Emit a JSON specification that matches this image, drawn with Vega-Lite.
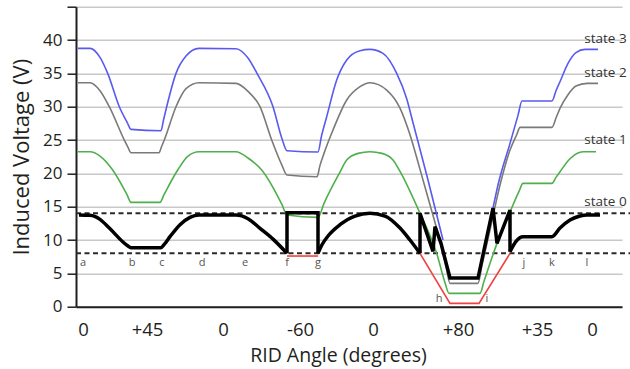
{
  "$schema": "https://vega.github.io/schema/vega-lite/v6.json",
  "width": 546,
  "height": 300,
  "autosize": {"type": "none"},
  "padding": {"left": 76, "top": 6.7, "right": 8, "bottom": 62.3},
  "background": "white",
  "config": {"view": {"stroke": null}, "font": "Open Sans"},
  "datasets": {
    "dash": [{"v": 14, "x": 0, "x2": 554}, {"v": 8, "x": 0, "x2": 554}],
    "letters": [
      {"t": "a", "x": 7, "v": 6.5}, {"t": "b", "x": 56, "v": 6.5}, {"t": "c", "x": 86, "v": 6.5},
      {"t": "d", "x": 126, "v": 6.5}, {"t": "e", "x": 169, "v": 6.5}, {"t": "f", "x": 211, "v": 6.5},
      {"t": "g", "x": 242, "v": 6.5}, {"t": "h", "x": 363, "v": 1.15}, {"t": "i", "x": 411, "v": 1.15},
      {"t": "j", "x": 448, "v": 6.5}, {"t": "k", "x": 476, "v": 6.5}, {"t": "l", "x": 511, "v": 6.5}
    ],
    "states": [
      {"t": "state 3", "x": 529.5, "v": 40.2},
      {"t": "state 2", "x": 529.5, "v": 35.0},
      {"t": "state 1", "x": 529.5, "v": 25.0},
      {"t": "state 0", "x": 529.5, "v": 15.7}
    ],
    "curves": [
      {"s":"s3a","x":2,"v":38.75},{"s":"s3a","x":14,"v":38.75},{"s":"s3a","x":24,"v":37.4},{"s":"s3a","x":31.7,"v":35},{"s":"s3a","x":43.3,"v":30},{"s":"s3a","x":51,"v":27.7},{"s":"s3a","x":55,"v":26.6},{"s":"s3a","x":85,"v":26.4},{"s":"s3a","x":87.5,"v":28},{"s":"s3a","x":90.7,"v":30},{"s":"s3a","x":100,"v":35},{"s":"s3a","x":110,"v":37.6},{"s":"s3a","x":123,"v":38.75},{"s":"s3a","x":160,"v":38.7},{"s":"s3a","x":172,"v":37.3},{"s":"s3a","x":181,"v":35},{"s":"s3a","x":197,"v":30},{"s":"s3a","x":206,"v":25.2},{"s":"s3a","x":211,"v":23.4},{"s":"s3a","x":242,"v":23.2},{"s":"s3a","x":245.5,"v":25.6},{"s":"s3a","x":250.7,"v":28.5},{"s":"s3a","x":260.7,"v":34},{"s":"s3a","x":270.7,"v":37},{"s":"s3a","x":284,"v":38.4},{"s":"s3a","x":294,"v":38.6},{"s":"s3a","x":307,"v":38},{"s":"s3a","x":320.7,"v":35},{"s":"s3a","x":330.7,"v":31.2},{"s":"s3a","x":337,"v":27.6},{"s":"s3a","x":352,"v":19},{"s":"s3a","x":367,"v":10},
      {"s":"s3b","x":417,"v":14.8},{"s":"s3b","x":422,"v":18.25},{"s":"s3b","x":434,"v":24.5},{"s":"s3b","x":442,"v":28.7},{"s":"s3b","x":446,"v":30.85},{"s":"s3b","x":476,"v":30.85},{"s":"s3b","x":480,"v":32.4},{"s":"s3b","x":484,"v":33.75},{"s":"s3b","x":492,"v":36.5},{"s":"s3b","x":500,"v":38.1},{"s":"s3b","x":509,"v":38.6},{"s":"s3b","x":522,"v":38.6},
      {"s":"s2","x":2,"v":33.6},{"s":"s2","x":14,"v":33.6},{"s":"s2","x":24,"v":32.4},{"s":"s2","x":33.3,"v":30},{"s":"s2","x":48.3,"v":25},{"s":"s2","x":52,"v":23.9},{"s":"s2","x":55,"v":23.1},{"s":"s2","x":83,"v":23.1},{"s":"s2","x":85.5,"v":24.0},{"s":"s2","x":88.3,"v":25},{"s":"s2","x":100,"v":30},{"s":"s2","x":110,"v":32.7},{"s":"s2","x":123,"v":33.6},{"s":"s2","x":160,"v":33.5},{"s":"s2","x":172,"v":32.3},{"s":"s2","x":184,"v":30},{"s":"s2","x":195.7,"v":25},{"s":"s2","x":206,"v":21.2},{"s":"s2","x":211,"v":19.75},{"s":"s2","x":241,"v":19.5},{"s":"s2","x":244,"v":21.2},{"s":"s2","x":248,"v":23},{"s":"s2","x":257,"v":26.5},{"s":"s2","x":270.7,"v":31},{"s":"s2","x":284,"v":33},{"s":"s2","x":294,"v":33.6},{"s":"s2","x":310.7,"v":32.5},{"s":"s2","x":324,"v":29.8},{"s":"s2","x":334,"v":25.8},{"s":"s2","x":344,"v":20.6},{"s":"s2","x":354,"v":15.3},{"s":"s2","x":364,"v":9.8},{"s":"s2","x":370,"v":6.0},{"s":"s2","x":374,"v":3.5},{"s":"s2","x":402,"v":3.5},{"s":"s2","x":406,"v":6.2},{"s":"s2","x":414,"v":11.5},{"s":"s2","x":424,"v":18.25},{"s":"s2","x":434,"v":23.5},{"s":"s2","x":441,"v":25.9},{"s":"s2","x":444,"v":26.9},{"s":"s2","x":476,"v":26.9},{"s":"s2","x":480,"v":28.3},{"s":"s2","x":484,"v":29.75},{"s":"s2","x":492,"v":31.8},{"s":"s2","x":500,"v":33.1},{"s":"s2","x":511,"v":33.5},{"s":"s2","x":522,"v":33.5},
      {"s":"s1","x":2,"v":23.25},{"s":"s1","x":14,"v":23.25},{"s":"s1","x":24,"v":22.6},{"s":"s1","x":36.7,"v":20.5},{"s":"s1","x":51,"v":16.8},{"s":"s1","x":55,"v":15.65},{"s":"s1","x":84,"v":15.65},{"s":"s1","x":88,"v":16.8},{"s":"s1","x":101.7,"v":20.5},{"s":"s1","x":112,"v":22.6},{"s":"s1","x":123,"v":23.25},{"s":"s1","x":160,"v":23.25},{"s":"s1","x":172,"v":22.3},{"s":"s1","x":185.7,"v":20.5},{"s":"s1","x":206,"v":15.3},{"s":"s1","x":211,"v":13.75},{"s":"s1","x":242,"v":13.4},{"s":"s1","x":248,"v":15.5},{"s":"s1","x":264,"v":20.2},{"s":"s1","x":270.7,"v":22},{"s":"s1","x":282,"v":23.0},{"s":"s1","x":294,"v":23.25},{"s":"s1","x":306,"v":23.0},{"s":"s1","x":317,"v":22},{"s":"s1","x":324,"v":20.3},{"s":"s1","x":344,"v":14},{"s":"s1","x":360.7,"v":8},{"s":"s1","x":369,"v":3.6},{"s":"s1","x":373,"v":2.0},{"s":"s1","x":404,"v":2.0},{"s":"s1","x":408,"v":3.8},{"s":"s1","x":421,"v":9.5},{"s":"s1","x":434,"v":14.2},{"s":"s1","x":443,"v":17.3},{"s":"s1","x":447,"v":18.5},{"s":"s1","x":476,"v":18.5},{"s":"s1","x":480,"v":19.4},{"s":"s1","x":484,"v":20.25},{"s":"s1","x":494,"v":22.2},{"s":"s1","x":507,"v":23.25},{"s":"s1","x":520,"v":23.25},
      {"s":"s0a","x":3,"v":13.75},{"s":"s0a","x":14,"v":13.7},{"s":"s0a","x":24,"v":13.1},{"s":"s0a","x":33.3,"v":11.8},{"s":"s0a","x":46.7,"v":9.75},{"s":"s0a","x":52,"v":9.1},{"s":"s0a","x":55,"v":8.85},{"s":"s0a","x":85,"v":8.85},{"s":"s0a","x":88,"v":9.3},{"s":"s0a","x":94,"v":10.5},{"s":"s0a","x":104,"v":12.3},{"s":"s0a","x":114,"v":13.4},{"s":"s0a","x":123,"v":13.75},{"s":"s0a","x":160,"v":13.75},{"s":"s0a","x":172,"v":13.2},{"s":"s0a","x":184,"v":11.75},{"s":"s0a","x":197.3,"v":10.1},{"s":"s0a","x":211,"v":8.0},
      {"s":"s0b","x":242,"v":8.0},{"s":"s0b","x":246,"v":9.3},{"s":"s0b","x":252,"v":10.6},{"s":"s0b","x":264,"v":12.3},{"s":"s0b","x":279,"v":13.6},{"s":"s0b","x":294,"v":14.0},{"s":"s0b","x":309,"v":13.6},{"s":"s0b","x":324,"v":11.8},{"s":"s0b","x":334,"v":10.0},{"s":"s0b","x":344,"v":8.0},
      {"s":"s0c","x":434,"v":8.25},{"s":"s0c","x":440,"v":9.8},{"s":"s0c","x":447,"v":10.5},{"s":"s0c","x":476,"v":10.5},{"s":"s0c","x":484,"v":11.8},{"s":"s0c","x":494,"v":13.0},{"s":"s0c","x":504,"v":13.6},{"s":"s0c","x":511,"v":13.75},{"s":"s0c","x":524,"v":13.75},
      {"s":"j1","i":1,"x":211,"v":8.0},{"s":"j1","i":2,"x":211,"v":14.1},{"s":"j1","i":3,"x":242,"v":14.1},{"s":"j1","i":4,"x":242,"v":8.0},
      {"s":"j2","i":1,"x":344,"v":8.0},{"s":"j2","i":2,"x":344,"v":14.0},{"s":"j2","i":3,"x":357,"v":8.3},{"s":"j2","i":4,"x":359,"v":12.0},{"s":"j2","i":5,"x":365,"v":9.5},{"s":"j2","i":6,"x":374,"v":4.3},{"s":"j2","i":7,"x":402,"v":4.3},{"s":"j2","i":8,"x":417,"v":14.8},{"s":"j2","i":9,"x":421,"v":9.5},{"s":"j2","i":10,"x":434,"v":14.5},{"s":"j2","i":11,"x":434,"v":8.25},
      {"s":"r1","i":1,"x":211,"v":7.6},{"s":"r1","i":2,"x":242,"v":7.6},
      {"s":"r2","i":1,"x":344,"v":8.0},{"s":"r2","i":2,"x":374,"v":0.5},{"s":"r2","i":3,"x":403,"v":0.5},{"s":"r2","i":4,"x":434,"v":8.0}
    ]
  },
  "encoding": {
    "x": {
      "field": "x", "type": "quantitative",
      "scale": {"domain": [0, 546], "nice": false, "zero": false},
      "axis": {
        "values": [7, 71, 147, 224, 297, 382, 461, 516],
        "labelExpr": "datum.value == 71 ? '+45' : datum.value == 224 ? '-60' : datum.value == 382 ? '+80' : datum.value == 461 ? '+35' : '0'",
        "title": "RID Angle (degrees)",
        "grid": false, "ticks": false, "tickSize": 0,
        "domainColor": "#231f20", "domainWidth": 2,
        "labelFontSize": 18.5, "labelColor": "#231f20", "labelPadding": 14, "labelFlush": false,
        "titleFontSize": 19.5, "titleFontWeight": "normal", "titleColor": "#231f20",
        "titleX": 262, "titleY": 55, "titleBaseline": "alphabetic", "titleAlign": "center"
      }
    },
    "y": {
      "field": "v", "type": "quantitative",
      "scale": {"domain": [0, 45], "nice": false},
      "axis": {
        "values": [0, 5, 10, 15, 20, 25, 30, 35, 40, 45],
        "labelExpr": "datum.value == 45 ? '' : datum.label",
        "grid": true, "gridColor": "#c8c8c8", "gridWidth": 1.5,
        "domainColor": "#231f20", "domainWidth": 2,
        "tickColor": "#231f20", "tickWidth": 1.5, "tickSize": 9,
        "labelPadding": 5, "labelFontSize": 17, "labelColor": "#231f20",
        "title": "Induced Voltage (V)", "titleFontSize": 22, "titleFontWeight": "normal",
        "titleColor": "#231f20", "titlePadding": 9
      }
    }
  },
  "layer": [
    {
      "data": {"name": "dash"},
      "mark": {"type": "rule", "strokeDash": [5, 3.5], "strokeWidth": 2, "color": "#2a2a2a"},
      "encoding": {"x2": {"field": "x2"}}
    },
    {
      "data": {"name": "curves"},
      "transform": [{"filter": {"field": "s", "oneOf": ["s3a", "s3b", "s2", "s1"]}}],
      "mark": {"type": "line", "interpolate": "monotone", "strokeWidth": 1.6},
      "encoding": {
        "color": {"field": "s", "type": "nominal", "legend": null,
          "scale": {"domain": ["s3a", "s3b", "s2", "s1"], "range": ["#5a5af0", "#5a5af0", "#7a7a7a", "#4db04a"]}},
        "detail": {"field": "s"}
      }
    },
    {
      "data": {"name": "curves"},
      "transform": [{"filter": {"field": "s", "oneOf": ["r1", "r2"]}}],
      "mark": {"type": "line", "strokeWidth": 1.6, "color": "#f04040"},
      "encoding": {"detail": {"field": "s"}, "order": {"field": "i"}}
    },
    {
      "data": {"name": "curves"},
      "transform": [{"filter": {"field": "s", "oneOf": ["s0a", "s0b", "s0c"]}}],
      "mark": {"type": "line", "interpolate": "monotone", "strokeWidth": 3.5, "color": "#000000"},
      "encoding": {"detail": {"field": "s"}}
    },
    {
      "data": {"name": "curves"},
      "transform": [{"filter": {"field": "s", "oneOf": ["j1", "j2"]}}],
      "mark": {"type": "line", "strokeWidth": 3.5, "color": "#000000"},
      "encoding": {"detail": {"field": "s"}, "order": {"field": "i"}}
    },
    {
      "data": {"name": "letters"},
      "mark": {"type": "text", "fontSize": 11, "color": "#555555", "baseline": "middle", "align": "center"},
      "encoding": {"text": {"field": "t"}}
    },
    {
      "data": {"name": "states"},
      "mark": {"type": "text", "fontSize": 13.5, "color": "#333333", "baseline": "middle", "align": "center"},
      "encoding": {"text": {"field": "t"}}
    }
  ]
}
